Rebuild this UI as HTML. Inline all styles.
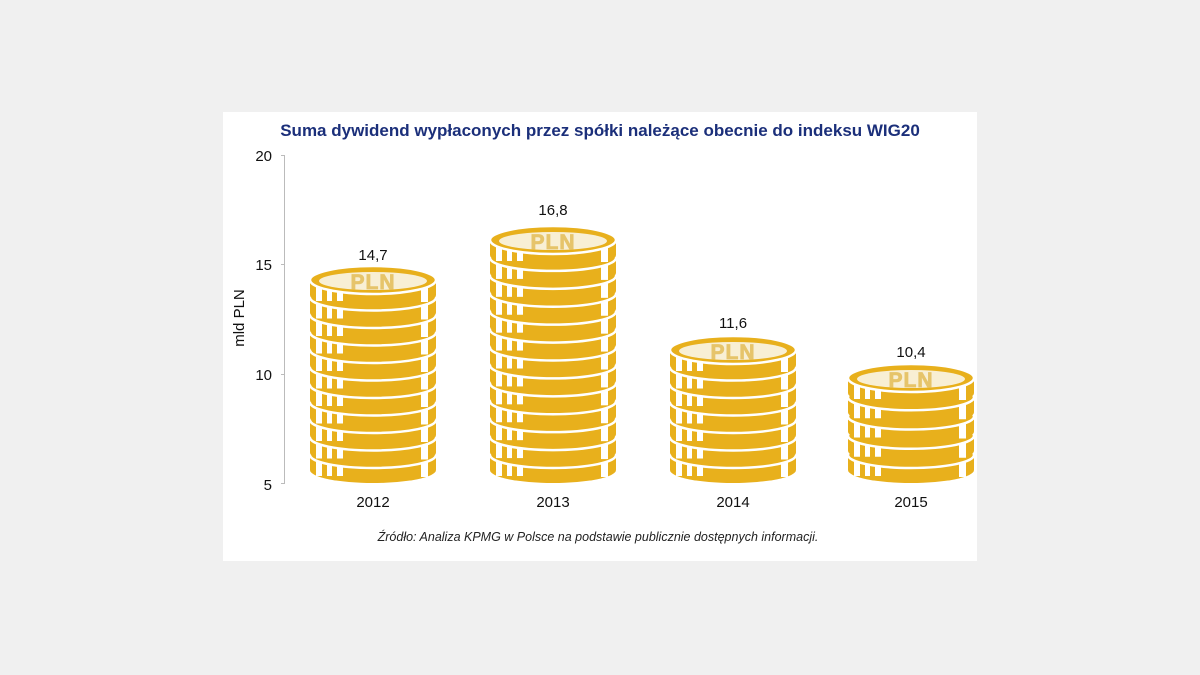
<!DOCTYPE html>
<html><head><meta charset="utf-8">
<style>
html,body{margin:0;padding:0;background:#f0f0f0;width:1200px;height:675px;overflow:hidden;font-family:"Liberation Sans",Arial,sans-serif}
</style></head>
<body>
<svg width="1200" height="675" xmlns="http://www.w3.org/2000/svg" style="position:absolute;left:0;top:0">
<rect x="223" y="112" width="754" height="449" fill="#ffffff"/>
<text x="600" y="136" text-anchor="middle" font-size="17" font-weight="bold" fill="#1b2f7a">Suma dywidend wypłaconych przez spółki należące obecnie do indeksu WIG20</text>
<line x1="284.5" y1="155" x2="284.5" y2="484" stroke="#bbb" stroke-width="1"/>
<g stroke="#bbb"><line x1="281" y1="155.5" x2="285" y2="155.5"/><line x1="281" y1="264.5" x2="285" y2="264.5"/><line x1="281" y1="374.5" x2="285" y2="374.5"/><line x1="281" y1="483.5" x2="285" y2="483.5"/></g>
<g font-size="15" fill="#111" text-anchor="end">
<text x="272" y="161">20</text><text x="272" y="270">15</text><text x="272" y="380">10</text><text x="272" y="490">5</text>
</g>
<text transform="translate(244,318) rotate(-90)" text-anchor="middle" font-size="15" fill="#111">mld PLN</text>
<g id="coins"></g>
<g font-size="15" fill="#111" text-anchor="middle">
<text x="373" y="260">14,7</text><text x="553" y="215">16,8</text><text x="733" y="328">11,6</text><text x="911" y="357">10,4</text>
<text x="373" y="507">2012</text><text x="553" y="507">2013</text><text x="733" y="507">2014</text><text x="911" y="507">2015</text>
</g>
<text x="598" y="541" text-anchor="middle" font-size="12.5" font-style="italic" fill="#222">Źródło: Analiza KPMG w Polsce na podstawie publicznie dostępnych informacji.</text>
<g font-weight="bold" font-size="21" fill="#e6c46a" text-anchor="middle" letter-spacing="1" stroke="#e6c46a" stroke-width="0.8">
<text x="373" y="289">PLN</text><text x="553" y="249">PLN</text><text x="733" y="359">PLN</text><text x="911" y="387">PLN</text>
</g>
</svg>
<script>
var Y='#e8b01c',g=document.getElementById('coins'),ns='http://www.w3.org/2000/svg';
function el(t,a){var e=document.createElementNS(ns,t);for(var k in a)e.setAttribute(k,a[k]);g.appendChild(e);return e;}
var stacks=[[373,280],[553,240],[733,350],[911,378]];
stacks.forEach(function(s){
 var cx=s[0],top=s[1],rx=63,ry=13,t=15,last=455;
 var n=Math.round((last-top)/18);
 var step=(last-top)/n;
 for(var i=n;i>=0;i--){
  var cy=top+i*step;
  el('ellipse',{cx:cx,cy:cy+t,rx:rx,ry:ry,fill:Y});
  el('rect',{x:cx-rx,y:cy,width:2*rx,height:t,fill:Y});
  [[6,12],[17,22],[27,33]].forEach(function(p){el('rect',{x:cx-rx+p[0],y:cy+6,width:p[1]-p[0],height:t,fill:'#fff'});});
  el('rect',{x:cx+rx-15,y:cy+7,width:7,height:t,fill:'#fff'});
  if(i==0){
   el('ellipse',{cx:cx,cy:cy,rx:rx,ry:ry+1,fill:Y,stroke:'#fff','stroke-width':2.5});
   el('ellipse',{cx:cx,cy:cy+1,rx:rx-9,ry:ry-4,fill:'#f8efd4'});
  } else {
   el('ellipse',{cx:cx,cy:cy,rx:rx,ry:ry,fill:Y,stroke:'#fff','stroke-width':2.5});
  }
 }
});
</script>
</body></html>
